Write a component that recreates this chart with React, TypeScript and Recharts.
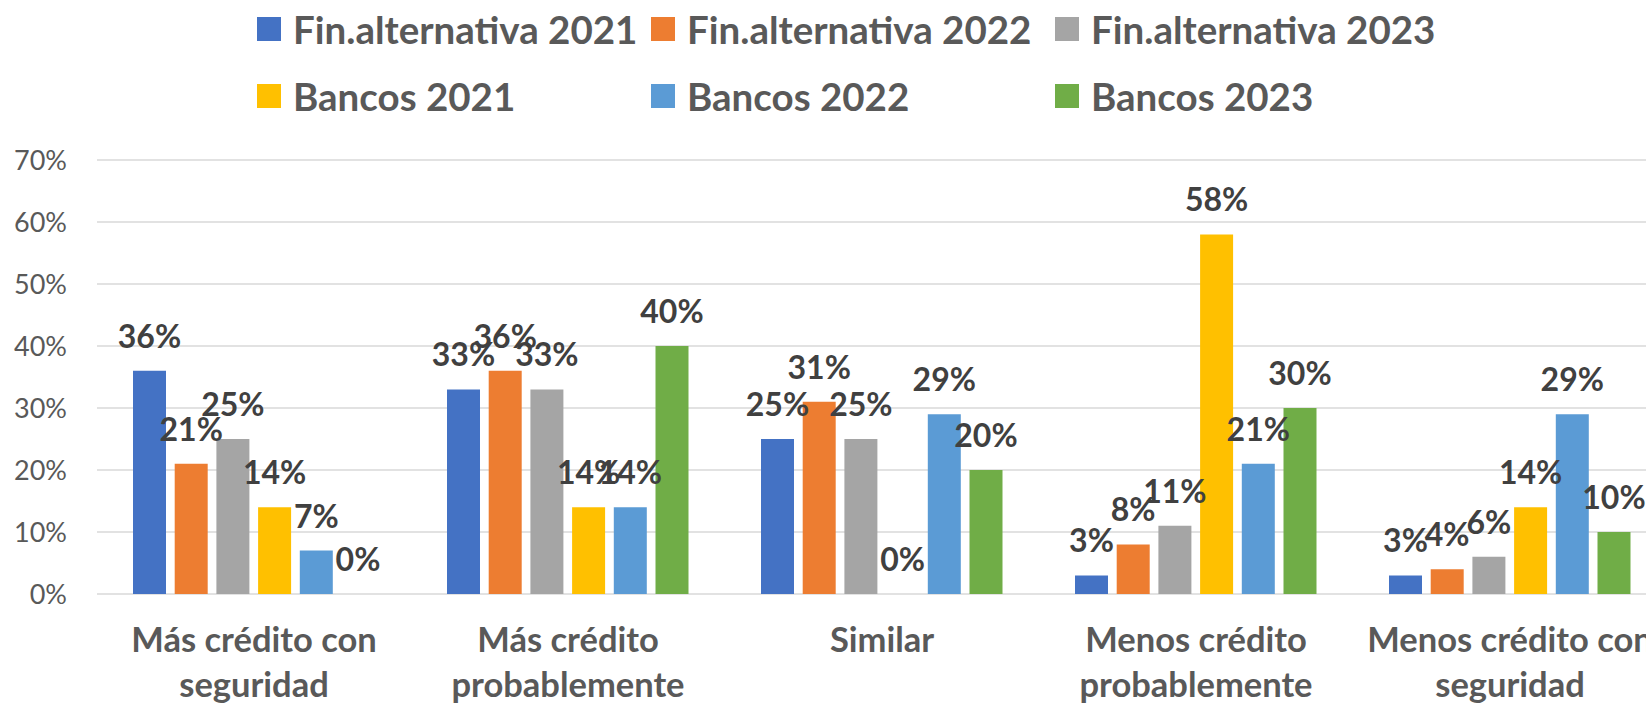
import { BarChart, Bar, XAxis, YAxis, CartesianGrid, LabelList } from 'recharts';

const categories = [
  'Más crédito con\nseguridad',
  'Más crédito\nprobablemente',
  'Similar',
  'Menos crédito\nprobablemente',
  'Menos crédito con\nseguridad',
];

const finAlt2021 = [36, 33, 25, 3, 3];
const finAlt2022 = [21, 36, 31, 8, 4];
const finAlt2023 = [25, 33, 25, 11, 6];
const bancos2021 = [14, 14, 0, 58, 14];
const bancos2022 = [7, 14, 29, 21, 29];
const bancos2023 = [0, 40, 20, 30, 10];

const yTicks = [0, 10, 20, 30, 40, 50, 60, 70];

const SERIES = [
  { key: 'fa2021', name: 'Fin.alternativa 2021', values: finAlt2021, color: '#4472C4' },
  { key: 'fa2022', name: 'Fin.alternativa 2022', values: finAlt2022, color: '#ED7D31' },
  { key: 'fa2023', name: 'Fin.alternativa 2023', values: finAlt2023, color: '#A5A5A5' },
  { key: 'b2021', name: 'Bancos 2021', values: bancos2021, color: '#FFC000' },
  { key: 'b2022', name: 'Bancos 2022', values: bancos2022, color: '#5B9BD5' },
  { key: 'b2023', name: 'Bancos 2023', values: bancos2023, color: '#70AD47' },
];

const FONT = 'Lato, "Open Sans", sans-serif';
const AXIS_COLOR = '#595959';
const LABEL_COLOR = '#404040';

const data = categories.map((cat, i) => {
  const row: Record<string, string | number> = { cat };
  SERIES.forEach((s) => {
    row[s.key] = s.values[i];
  });
  return row;
});

// two-line category labels, split on the newline
function CategoryTick({ x, y, payload }: any) {
  const lines = String(payload.value).split('\n');
  return (
    <text
      x={x}
      y={y}
      textAnchor="middle"
      fill={AXIS_COLOR}
      fontFamily={FONT}
      fontWeight="bold"
      fontSize={34.5}
    >
      {lines.map((line, idx) => (
        <tspan key={idx} x={x} y={y + 58 + idx * 45}>
          {line}
        </tspan>
      ))}
    </text>
  );
}

function LegendBlock() {
  const cols = [257, 651, 1055];
  const rows = [29, 96];
  return (
    <>
      {SERIES.map((s, i) => (
        <div
          key={s.key}
          style={{
            position: 'absolute',
            left: cols[i % 3],
            top: rows[Math.floor(i / 3)] - 22,
            height: 44,
            display: 'flex',
            alignItems: 'center',
            gap: 12,
            whiteSpace: 'nowrap',
          }}
        >
          <div style={{ width: 24, height: 24, background: s.color }} />
          <span
            style={{
              fontFamily: FONT,
              fontWeight: 'bold',
              fontSize: 38.5,
              color: AXIS_COLOR,
              lineHeight: '44px',
            }}
          >
            {s.name}
          </span>
        </div>
      ))}
    </>
  );
}

export default function App() {
  return (
    <div
      style={{
        position: 'fixed',
        left: 0,
        top: 0,
        width: 1646,
        height: 703,
        overflow: 'hidden',
        background: '#fff',
      }}
    >
      <LegendBlock />
      <div style={{ position: 'absolute', left: 0, top: 0 }}>
        <BarChart
          width={1680}
          height={703}
          data={data}
          margin={{ top: 160, right: 13, left: 0, bottom: 0 }}
          barCategoryGap={36}
          barGap={8.7}
        >
          <CartesianGrid vertical={false} stroke="#d9d9d9" strokeWidth={1.6} />
          <XAxis
            dataKey="cat"
            axisLine={false}
            tickLine={false}
            tickSize={0}
            tickMargin={0}
            height={109}
            interval={0}
            tick={<CategoryTick />}
          />
          <YAxis
            domain={[0, 70]}
            ticks={yTicks}
            width={97}
            axisLine={false}
            tickLine={false}
            tickSize={0}
            tickMargin={30}
            tickFormatter={(v) => `${v}%`}
            tick={{ fontSize: 27, fill: AXIS_COLOR, fontFamily: FONT }}
          />
          {SERIES.map((s) => (
            <Bar
              key={s.key}
              dataKey={s.key}
              name={s.name}
              fill={s.color}
              minPointSize={0.01}
              isAnimationActive={false}
            >
              <LabelList
                dataKey={s.key}
                position="top"
                offset={23}
                formatter={(v: any) => `${v}%`}
                fill={LABEL_COLOR}
                fontSize={32}
                fontWeight="bold"
                fontFamily={FONT}
              />
            </Bar>
          ))}
        </BarChart>
      </div>
    </div>
  );
}
